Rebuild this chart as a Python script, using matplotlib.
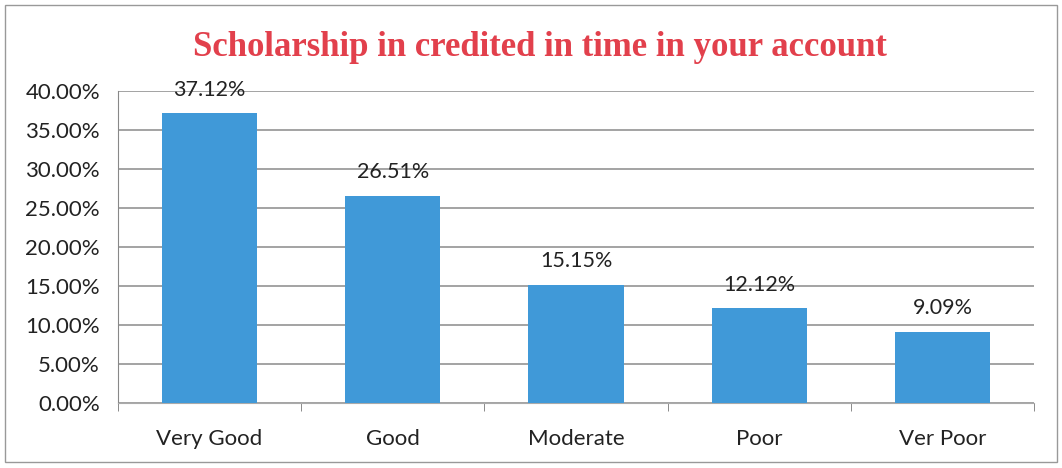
import numpy as np
import matplotlib.pyplot as plt
from matplotlib.patches import Rectangle
from matplotlib.ticker import FuncFormatter, MultipleLocator

categories = ["Very Good", "Good", "Moderate", "Poor", "Ver Poor"]
values = [37.12, 26.51, 15.15, 12.12, 9.09]
value_labels = ["37.12%", "26.51%", "15.15%", "12.12%", "9.09%"]

title = "Scholarship in credited in time in your account"

plt.rcParams['font.family'] = ['Lato', 'DejaVu Sans']

fig = plt.figure(figsize=(10.62, 4.68), dpi=100)
ax = fig.add_axes([118 / 1062, 1 - 403 / 468, (1034 - 118) / 1062, (403 - 91) / 468])

x = np.arange(len(categories))
bars = ax.bar(x, values, width=0.52, color="#4099d8", zorder=3)

for b, lab in zip(bars, value_labels):
    ax.annotate(lab, (b.get_x() + b.get_width() / 2, b.get_height()),
                xytext=(0, 10), textcoords="offset points",
                ha="center", va="bottom", fontsize=15.5, color="#222222")

ax.set_xlim(-0.5, len(categories) - 0.5)
ax.set_ylim(0, 40)
ax.yaxis.set_major_locator(MultipleLocator(5))
ax.yaxis.set_major_formatter(FuncFormatter(lambda v, p: "%.2f%%" % v))
ax.grid(axis="y", color="#8a8a8a", linewidth=1.1, zorder=0)

ax.set_xticks(x)
ax.set_xticklabels(categories)
ax.set_xticks(np.arange(-0.5, len(categories)), minor=True)
ax.tick_params(axis="x", which="major", length=0, pad=19, labelsize=16, labelcolor="#222222")
ax.tick_params(axis="x", which="minor", length=6, color="#777777")
ax.tick_params(axis="y", length=0, pad=13, labelsize=16, labelcolor="#222222")

for s in ["top", "right"]:
    ax.spines[s].set_visible(False)
ax.spines["left"].set_color("#888888")
ax.spines["bottom"].set_color("#aaaaaa")

fig.text(0.508, 1 - 47 / 468, title, ha="center", va="center",
         fontsize=25, fontweight="bold", color="#e2404c",
         family=["Liberation Serif", "DejaVu Serif"])

fig.patches.append(Rectangle((5 / 1062, 1 - 462 / 468), 1052 / 1062, 457 / 468,
                             transform=fig.transFigure, fill=False,
                             edgecolor="#999999", linewidth=1))

fig.savefig("out.png", dpi=100)
